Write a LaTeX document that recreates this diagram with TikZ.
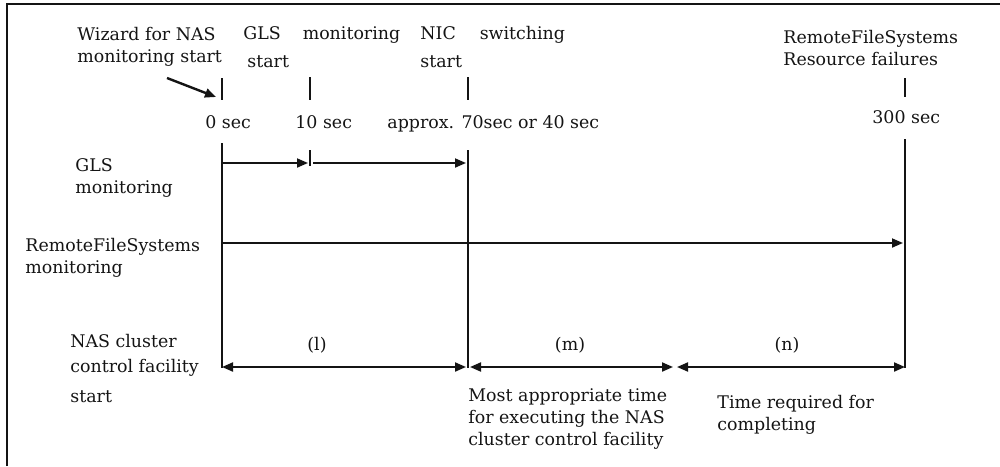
\documentclass[tikz,border=0pt]{standalone}
\usepackage{fontspec}
\setmainfont{DejaVu Serif}
\usetikzlibrary{arrows.meta}
\definecolor{ink}{HTML}{141414}
\newcommand{\txt}{\fontsize{8.7}{11}\selectfont}

\begin{document}
\begin{tikzpicture}[x=0.5pt,y=-0.5pt,font=\txt,text=ink,
  lbl/.style={anchor=base west,inner sep=0,align=left},
  tickline/.style={ink,line width=0.9pt},
  flow/.style={ink,line width=0.9pt,-{Triangle[length=5.5pt,width=4.5pt]}},
  spanarrow/.style={ink,line width=1pt,{Triangle[length=5.5pt,width=4.5pt]}-{Triangle[length=5.5pt,width=4.5pt]}}]
\useasboundingbox (0,0) rectangle (1000,466);
\draw[ink,line width=1pt] (7,466) -- (7,4) -- (1000,4);
% events on top (base = last line)
\node[lbl] (wiz) at (77,62) {Wizard for NAS\\monitoring start};
\node[lbl] (glsstart) at (243,67) {GLS\hspace{11pt}monitoring\\[2.5pt]\hspace{2pt}start};
\node[lbl] (nicsw) at (420,67) {NIC\hspace{12pt}switching\\[2.5pt]start};
\node[lbl] (rfsfail) at (783,65) {RemoteFileSystems\\Resource failures};
\node[lbl] (t0) at (205,128) {0 sec};
\node[lbl] (t10) at (295,128) {10 sec};
\node[lbl] (t70) at (387,128) {approx. 70sec or 40 sec};
\node[lbl] (t300) at (872,123) {300 sec};
% rows on the left
\node[lbl] (glsmon) at (75,193) {GLS\\monitoring};
\node[lbl] (rfsmon) at (25,273) {RemoteFileSystems\\monitoring};
\node[lbl] (nasstart) at (70,402) {NAS cluster\\[1.5pt]control facility\\[4pt]start};
% spans
\node[anchor=base] (pl) at (317,350) {(l)};
\node[anchor=base] (pm) at (570,350) {(m)};
\node[anchor=base] (pn) at (787,350) {(n)};
\node[lbl] (best) at (468,445) {Most appropriate time\\for executing the NAS\\cluster control facility};
\node[lbl] (need) at (717,430) {Time required for\\completing};
\coordinate (wizpt) at (216,97);
\coordinate (g0) at (222,163);
\coordinate (g10) at (310,163);
\coordinate (g70) at (468,163);
\coordinate (r0) at (222,243);
\coordinate (r300) at (905,243);
\coordinate (b0) at (222,367);
\coordinate (b70) at (468,367);
\coordinate (bm) at (675,367);
\coordinate (b300) at (905,367);
% ticks
\draw[tickline] (222,78) -- (222,100);
\draw[tickline] (310,77) -- (310,100);
\draw[tickline] (468,77) -- (468,100);
\draw[tickline] (905,78) -- (905,97);
\draw[tickline] (222,143) -- ([yshift=-0.5pt]b0);
\draw[tickline] (310,150) -- ([yshift=-1.5pt]g10);
\draw[tickline] (468,150) -- ([yshift=-0.5pt]b70);
\draw[tickline] (905,139) -- ([yshift=-0.5pt]b300);
% arrows
\draw[flow,line width=1.2pt] (167,78) -- (wizpt);
\draw[flow] (g0) -- ([xshift=-1pt]g10);
\draw[flow] ([xshift=1.5pt]g10) -- ([xshift=-1pt]g70);
\draw[flow] (r0) -- ([xshift=-1pt]r300);
\draw[spanarrow] (b0) -- ([xshift=-1pt]b70);
\draw[spanarrow] ([xshift=1pt]b70) -- ([xshift=-1pt]bm);
\draw[spanarrow] ([xshift=1pt]bm) -- (b300);
\end{tikzpicture}
\end{document}
